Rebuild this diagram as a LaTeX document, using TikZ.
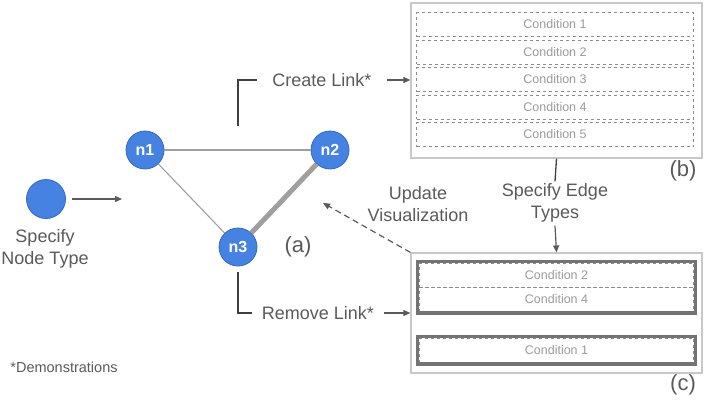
\documentclass[tikz,border=0pt]{standalone}
\usepackage{fontspec}
\setmainfont{Liberation Sans}
\usepackage{xcolor}
\usetikzlibrary{arrows.meta,fit}
\definecolor{nodeblue}{HTML}{4682E2}
\definecolor{nodeline}{HTML}{3567BE}
\definecolor{txtgray}{HTML}{5A5A5A}
\definecolor{condgray}{HTML}{9A9A9A}
\definecolor{boxgray}{HTML}{C8C8C8}
\newcommand{\fsz}[2]{\fontsize{#1}{#2}\selectfont}
\tikzset{
  vertex/.style={circle,fill=nodeblue,draw=nodeline,line width=0.8pt,minimum size=38pt,inner sep=0pt,text=white,font=\bfseries\fsz{16}{18}},
  caption/.style={text=txtgray,font=\fsz{18}{22},align=center,inner sep=0pt},
  panel/.style={draw=boxgray,line width=1.2pt,inner sep=0pt},
  cond/.style={draw=gray!90,dashed,line width=0.8pt,minimum width=277pt,minimum height=24pt,inner sep=0pt,text=condgray,font=\fsz{12.5}{14}},
  keep/.style={draw=gray!90!black,line width=3.2pt,inner sep=1.5pt},
  arr/.style={-{Triangle[width=6pt,length=7pt]},draw=txtgray,line width=1.2pt},
  bracket/.style={draw=txtgray!70!black,line width=1.6pt},
  edge/.style={draw=gray!75,line width=1.1pt}
}

\begin{document}
\begin{tikzpicture}[x=1pt,y=-1pt]
    \useasboundingbox (0,0) rectangle (704,405);

    % graph (a)
    \node[vertex] (n1) at (145,150) {n1};
    \node[vertex] (n2) at (330,150) {n2};
    \node[vertex] (n3) at (238,247) {n3};
    \draw[edge] (n1) -- (n2);
    \draw[edge] (n1) -- (n3);
    \draw[edge,line width=5pt] (n2) -- (n3);
    \node[caption,font=\fsz{22}{26}] (la) at (298,247) {(a)};

    % node type
    \node[vertex,minimum size=39pt] (nt) at (46,199) {};
    \node[caption] (nttxt) at (45,249) {Specify\\Node Type};
    \coordinate (ntend) at (122,199);
    \draw[arr,shorten <=6pt] (nt) -- (ntend);

    % panel (b)
    \node[panel,minimum width=291pt,minimum height=155pt] (b) at (556.5,80.5) {};
    \foreach \i in {1,...,5}
        \node[cond] (b\i) at (555,{-3+\i*27.5}) {Condition \i};
    \node[caption,font=\fsz{22}{26}] (lb) at (683,171) {(b)};

    % panel (c)
    \node[panel,minimum width=291pt,minimum height=120pt] (c) at (556.5,313) {};
    \node[cond,minimum width=274pt] (c2) at (556.5,275) {Condition 2};
    \node[cond,minimum width=274pt] (c4) at (556.5,299) {Condition 4};
    \node[cond,minimum width=274pt] (c1) at (556.5,350) {Condition 1};
    \node[keep,fit=(c2)(c4)] (k1) {};
    \node[keep,fit=(c1)] (k2) {};
    \node[caption,font=\fsz{22}{26}] (lc) at (683,385) {(c)};

    % edge types
    \node[caption] (et) at (555,203) {Specify Edge\\Types};
    \draw[bracket,line width=1.3pt] (b.south) -- ([yshift=2pt]et.north);
    \draw[arr] ([yshift=-3pt]et.south) -- (c.north);

    % create / remove link
    \coordinate (cl) at (238,126);
    \coordinate (rl) at (238,272);
    \node[caption,inner xsep=15pt] (create) at (322,80) {Create Link*};
    \node[caption,inner xsep=10pt] (remove) at (318,313) {Remove Link*};
    \draw[bracket] (cl) |- (create.west);
    \draw[bracket] (rl) |- (remove.west);
    \draw[arr] (create.east) -- (b.west |- create.east);
    \draw[arr] (remove.east) -- (c.west |- remove.east);

    % update
    \node[caption] (upd) at (418,204) {Update\\Visualization};
    \coordinate (updend) at (323,203);
    \draw[arr,dashed,dash pattern=on 6pt off 4pt] (c.north west) -- (updend);

    \node[caption,font=\fsz{14.5}{17}] (demo) at (64,367) {*Demonstrations};
\end{tikzpicture}
\end{document}
